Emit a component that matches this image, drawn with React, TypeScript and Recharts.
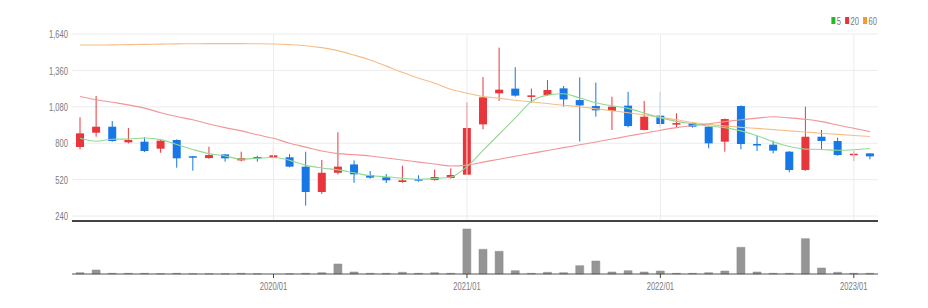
import React from 'react';
import { ComposedChart, Bar, Line, XAxis, YAxis, CartesianGrid, ReferenceLine } from 'recharts';

const dates = [
  '2019/01','2019/02','2019/03','2019/04','2019/05','2019/06','2019/07','2019/08','2019/09','2019/10','2019/11','2019/12',
  '2020/01','2020/02','2020/03','2020/04','2020/05','2020/06','2020/07','2020/08','2020/09','2020/10','2020/11','2020/12',
  '2021/01','2021/02','2021/03','2021/04','2021/05','2021/06','2021/07','2021/08','2021/09','2021/10','2021/11','2021/12',
  '2022/01','2022/02','2022/03','2022/04','2022/05','2022/06','2022/07','2022/08','2022/09','2022/10','2022/11','2022/12',
  '2023/01','2023/02',
];
const opens = [771,881,927,807,812,758,825,700,686,714,668,694,689,692,620,425,573,637,553,538,502,525,517,533,558,945,1184,1220,1156,1171,1222,1132,1086,1048,1089,902,1012,943,953,927,812,1086,794,789,735,594,850,817,709,722];
const closes = [876,927,817,825,740,820,684,694,709,684,686,686,707,620,425,573,620,561,535,515,515,512,540,556,917,1153,1212,1166,1168,1209,1137,1091,1053,1081,932,1004,948,955,927,799,986,794,784,743,594,850,817,709,719,699];
const highs = [999,1163,971,917,845,825,830,700,773,716,735,704,781,716,735,671,884,668,586,563,627,553,597,607,1114,1309,1535,1384,1220,1286,1240,1307,1266,1158,1196,1125,1194,1030,963,932,990,1091,855,820,740,1081,902,843,740,722];
const lows = [753,850,812,799,732,727,612,589,681,658,661,658,671,615,320,410,561,496,528,494,497,505,512,528,555,907,1125,1158,1112,1163,1081,814,1004,902,922,899,922,917,920,761,735,753,740,722,576,589,753,704,663,676];
const volumes = [130,400,70,70,70,30,70,20,20,20,70,20,0,20,70,130,1000,200,70,70,170,70,130,70,4500,2470,2270,330,70,170,130,830,1300,200,330,200,300,70,70,130,300,2670,200,70,70,3530,600,170,70,70];
const ma5 = [838,815,831,832,840,828,790,752,720,702,678,684,690,668,630,610,595,573,550,542,530,523,528,540,620,745,870,995,1120,1170,1180,1148,1112,1088,1068,1032,995,968,950,932,920,895,858,812,775,755,752,746,750,760];
const ma20 = [1160,1135,1115,1095,1070,1035,1005,980,948,920,895,865,838,800,770,740,720,712,702,686,671,655,640,625,632,655,677,700,722,744,766,788,810,832,855,877,900,920,935,950,966,980,993,1004,995,984,966,940,915,889];
const ma60 = [1555,1555,1556,1558,1560,1562,1564,1565,1566,1566,1566,1565,1563,1558,1550,1535,1512,1478,1440,1393,1345,1300,1262,1215,1185,1160,1145,1130,1118,1105,1092,1080,1065,1050,1035,1018,1000,980,960,945,932,922,914,905,895,886,877,868,860,852];

const priceTicks = [240, 520, 800, 1080, 1360, 1640];
const yearTicks = ['2020/01', '2021/01', '2022/01', '2023/01'];
const legendItems = [
  { label: '5', color: '#22b82a' },
  { label: '20', color: '#ee3338' },
  { label: '60', color: '#f09a30' },
];

const data = dates.map((d, i) => ({
  date: d,
  open: opens[i],
  close: closes[i],
  high: highs[i],
  low: lows[i],
  range: [lows[i], highs[i]],
  volume: volumes[i],
  ma5: ma5[i],
  ma20: ma20[i],
  ma60: ma60[i],
}));

const UP = '#e8363c';
const DOWN = '#1677e5';
const FONT = "'Liberation Sans', Arial, sans-serif";
const SQX = 0.66;

const Candle = (props: any) => {
  const { x, y, width, height, payload } = props;
  if (!payload) return null;
  const { open, close, high, low } = payload;
  const top = Math.min(y, y + height);
  const bot = Math.max(y, y + height);
  const span = high - low || 1;
  const py = (v: number) => top + ((high - v) / span) * (bot - top);
  const color = close >= open ? UP : DOWN;
  const yo = py(open);
  const yc = py(close);
  const bt = Math.min(yo, yc);
  const bh = Math.max(1.5, Math.abs(yo - yc));
  const cx = x + width / 2;
  return (
    <g>
      <line x1={cx} x2={cx} y1={top} y2={bot} stroke={color} strokeWidth={1} />
      <rect x={x} y={bt} width={width} height={bh} fill={color} />
    </g>
  );
};

const YTick = (props: any) => {
  const { x, y, payload } = props;
  return (
    <text
      x={x}
      y={y}
      dy="0.36em"
      textAnchor="end"
      fill="#7a7a7a"
      fontSize={11.5}
      fontFamily={FONT}
      transform={`translate(${x},0) scale(${SQX},1) translate(${-x},0)`}
    >
      {Number(payload.value).toLocaleString('en-US')}
    </text>
  );
};

const XTick = (props: any) => {
  const { x, y, payload } = props;
  return (
    <text
      x={x}
      y={y}
      dy="0.71em"
      textAnchor="middle"
      fill="#7a7a7a"
      fontSize={11.5}
      fontFamily={FONT}
      transform={`translate(${x},0) scale(${SQX},1) translate(${-x},0)`}
    >
      {payload.value}
    </text>
  );
};

const Legend = () => {
  let cx = 0;
  const parts = legendItems.map((it) => {
    const start = cx;
    const tw = it.label.length * 6.4 * SQX;
    cx += 4 + 1.5 + tw + 4;
    return { ...it, start, tw };
  });
  const total = cx - 4;
  const left = 877 - total;
  return (
    <svg width={928} height={40} style={{ position: 'absolute', left: 0, top: 0 }}>
      {parts.map((p) => (
        <g key={p.label}>
          <rect x={left + p.start} y={17} width={4} height={7} fill={p.color} />
          <text
            x={left + p.start + 5.5}
            y={21}
            dy="0.36em"
            fill="#7a7a7a"
            fontSize={11.5}
            fontFamily={FONT}
            transform={`translate(${left + p.start + 5.5},0) scale(${SQX},1) translate(${-(left + p.start + 5.5)},0)`}
          >
            {p.label}
          </text>
        </g>
      ))}
    </svg>
  );
};

export default function App() {
  return (
    <div style={{ position: 'absolute', left: 0, top: 0, width: 928, height: 308, background: '#fff' }}>
      <div style={{ position: 'absolute', left: 0, top: 0 }}>
        <ComposedChart width={928} height={222} data={data} margin={{ top: 34, right: 50, left: 0, bottom: 0 }}>
          <CartesianGrid stroke="#ececec" strokeWidth={1} vertical={false} />
          {yearTicks.map((t) => (
            <ReferenceLine key={t} x={t} stroke="#ececec" strokeWidth={1} />
          ))}
          <XAxis
            dataKey="date"
            ticks={yearTicks}
            interval={0}
            tick={false}
            tickLine={false}
            axisLine={{ stroke: '#444', strokeWidth: 2 }}
            height={1}
          />
          <YAxis
            domain={[202, 1640]}
            ticks={priceTicks}
            interval={0}
            allowDataOverflow
            width={72}
            axisLine={false}
            tickLine={false}
            tickSize={4}
            tickMargin={0}
            tick={<YTick />}
          />
          <Line dataKey="ma60" type="monotone" stroke="#f6bd86" strokeWidth={1.1} dot={false} isAnimationActive={false} />
          <Line dataKey="ma20" type="monotone" stroke="#f29595" strokeWidth={1.1} dot={false} isAnimationActive={false} />
          <Line dataKey="ma5" type="monotone" stroke="#90d990" strokeWidth={1.1} dot={false} isAnimationActive={false} />
          <Bar dataKey="range" barSize={8} shape={Candle} isAnimationActive={false} />
        </ComposedChart>
      </div>
      <div style={{ position: 'absolute', left: 0, top: 222 }}>
        <ComposedChart width={928} height={86} data={data} margin={{ top: 0, right: 50, left: 72, bottom: 0 }}>
          <XAxis
            dataKey="date"
            ticks={yearTicks}
            interval={0}
            height={34}
            axisLine={{ stroke: '#555', strokeWidth: 1 }}
            tickLine={{ stroke: '#444' }}
            tickSize={4}
            tickMargin={4}
            tick={<XTick />}
          />
          <YAxis hide domain={[0, 5200]} />
          <Bar dataKey="volume" barSize={8} fill="#959595" stroke="#8a8a8a" strokeWidth={0.5} isAnimationActive={false} />
        </ComposedChart>
      </div>
      <Legend />
    </div>
  );
}
